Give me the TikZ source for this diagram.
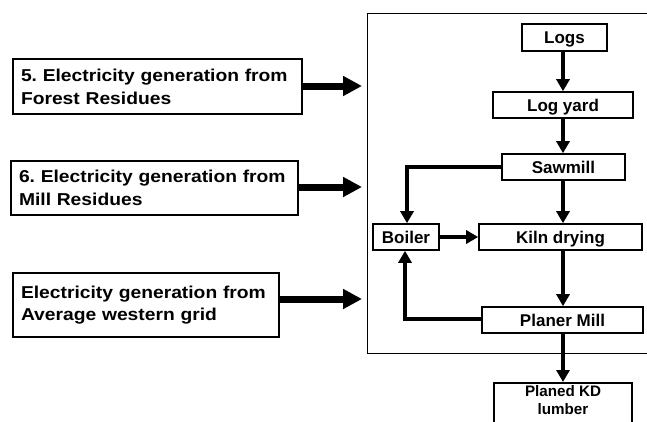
\documentclass[tikz,border=0pt]{standalone}
\usepackage{fontspec}
\setmainfont{Liberation Sans}
\newfontfamily\widefont[FakeStretch=1.12]{Liberation Sans}
\usetikzlibrary{arrows.meta}
\frenchspacing
\begin{document}
\begin{tikzpicture}[x=1pt,y=-1pt,
  box/.style={draw=black,line width=1.6pt,fill=white,inner sep=0pt,
    text height=12pt,text depth=0pt,
    font=\fontsize{17}{20}\selectfont\bfseries},
  srcbox/.style={draw=black,line width=1.2pt,fill=white,inner xsep=8pt,inner ysep=0pt,
    align=left,font=\widefont\fontsize{17.2}{22.8}\selectfont\bfseries},
  flow/.style={line width=3.6pt,-{Triangle[width=13pt,length=12pt]}},
  feed/.style={line width=7pt,-{Triangle[width=19pt,length=19pt]}},
  frame/.style={draw=black,line width=1.3pt}]
\useasboundingbox (0,0) rectangle (647,421);
\clip (0,0) rectangle (647,421);
\fill[white] (0,0) rectangle (647,421);
% frame
\node[frame,minimum width=300pt,minimum height=340pt,anchor=north west,inner sep=0pt] (frame) at (367,13) {};
% process boxes
\node[box,minimum width=85pt,minimum height=27pt] (logs) at (564.5,37.5) {Logs};
\node[box,minimum width=140pt,minimum height=26pt] (yard) at (563,105) {Log yard};
\node[box,minimum width=123pt,minimum height=26pt] (saw) at (563.5,167) {Sawmill};
\node[box,minimum width=66pt,minimum height=26pt] (boiler) at (406,237) {Boiler};
\node[box,minimum width=163pt,minimum height=26pt] (kiln) at (560.5,237) {Kiln drying};
\node[box,minimum width=161pt,minimum height=26pt] (planer) at (562.5,320) {Planer Mill};
\node[draw=black,line width=1.6pt,fill=white,minimum width=138pt,minimum height=50pt,anchor=north,inner sep=0pt] (kd) at (563,382) {};
\node[align=center,inner sep=0pt,font=\fontsize{15.2}{18}\selectfont\bfseries] (kdtext) at (563,400.5) {Planed KD\\lumber};
% flow arrows
\draw[flow] (logs.south -| 563,0) -- (yard.north -| 563,0);
\draw[flow] (yard.south -| 563,0) -- (saw.north -| 563,0);
\draw[flow] (saw.south -| 563,0) -- (kiln.north -| 563,0);
\draw[flow] (kiln.south -| 563,0) -- (planer.north -| 563,0);
\draw[flow] (planer.south -| 563,0) -- (kd.north -| 563,0);
\draw[flow] (saw.west |- 0,167) -| (boiler.north -| 407,0);
\draw[flow] (boiler.east) -- (kiln.west);
\draw[flow] (planer.west |- 0,319) -| (boiler.south -| 405,0);
% source boxes
\node[srcbox,text width=273pt,minimum height=55pt] (s1) at (157.5,86.5) {5. Electricity generation from\\Forest Residues};
\node[srcbox,text width=271pt,minimum height=54pt] (s2) at (154.5,188) {6. Electricity generation from\\Mill Residues};
\node[srcbox,text width=250pt,minimum height=64pt] (s3) at (146,305) {Electricity generation from\\Average western grid};
\coordinate (t1) at (362,86);
\coordinate (t2) at (362,187);
\coordinate (t3) at (362,299);
\draw[feed] (s1.east |- t1) -- (t1);
\draw[feed] (s2.east |- t2) -- (t2);
\draw[feed] (s3.east |- t3) -- (t3);
\end{tikzpicture}
\end{document}
